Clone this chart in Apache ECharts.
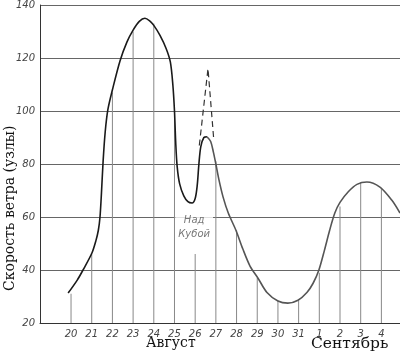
<!DOCTYPE html>
<html>
<head>
<meta charset="utf-8">
<script src="https://cdn.jsdelivr.net/npm/echarts@6/dist/echarts.min.js"></script>
<style>
  html, body { margin: 0; padding: 0; background: #fff; }
  #main { width: 400px; height: 353px; }
</style>
</head>
<body>
<div id="main"></div>
<script>
// day labels, index 0 = 20 August ... 15 = 4 September
var dayLabels = ['20','21','22','23','24','25','26','27','28','29','30','31','1','2','3','4'];
var yTicks = [20, 40, 60, 80, 100, 120, 140];

// vertical line height at every day (where it meets the curve)
var dayHeights = [31, 46, 107, 130, 133, 98, 46, 81, 55, 37, 28.5, 28.5, 39, 64, 73, 71];

// curve up to the bump over Cuba (dark part)
var curveA = [
  [-0.14,31.3],[0.3,36.2],[0.58,40],[1.01,46.4],[1.2,51],[1.32,55],[1.4,60],[1.47,69],
  [1.55,81],[1.65,92],[1.78,100.5],[2.0,108],[2.37,119],[2.7,126],[3.0,130.5],[3.3,133.8],
  [3.57,135],[3.8,134],[4.0,132.3],[4.3,128.5],[4.6,123.5],[4.8,118.5],[4.92,110],
  [5.0,100],[5.06,88],[5.13,79],[5.25,72.5],[5.45,68],[5.65,65.8],[5.85,65.3],[6.0,67],
  [6.1,72],[6.18,80],[6.27,86.5],[6.42,90],[6.57,90.3]
];
// rest of the curve (lighter)
var curveB = [
  [6.57,90.3],[6.75,88.5],[6.88,84.5],[7.0,80],[7.15,74],[7.35,67.5],[7.6,61.5],[7.97,55],
  [8.3,48],[8.65,41.5],[9.03,37],[9.47,31.5],[10.0,28.3],[10.48,27.5],[10.97,28.6],[11.4,31.5],
  [11.7,35],[11.98,40],[12.25,47.5],[12.5,55],[12.75,61.5],[13.0,65.5],[13.4,69.5],[13.82,72.3],
  [14.3,73.2],[14.93,71.3],[15.5,66.4],[15.9,61.5]
];
// dashed spike
var spike = [[6.2,87],[6.62,116],[6.9,89]];

var myChart = echarts.init(document.getElementById('main'));
myChart.setOption({
  animation: false,
  grid: { left: 40, right: 0, top: 5, bottom: 30 },
  xAxis: {
    type: 'value',
    min: -1.5,
    max: 15.9,
    axisLine: { onZero: false, lineStyle: { color: '#333', width: 1 } },
    axisTick: { show: false },
    splitLine: { show: false },
    axisLabel: {
      customValues: dayLabels.map(function (d, i) { return i; }),
      formatter: function (v) { return dayLabels[Math.round(v)]; },
      fontStyle: 'italic',
      fontFamily: 'DejaVu Sans',
      fontSize: 10,
      color: '#444',
      margin: 6
    }
  },
  yAxis: {
    type: 'value',
    min: 20,
    max: 140,
    interval: 20,
    axisLine: { show: true, onZero: false, lineStyle: { color: '#333', width: 1 } },
    axisTick: { show: false },
    splitLine: { show: true, lineStyle: { color: '#666', width: 1 } },
    axisLabel: {
      fontStyle: 'italic',
      fontFamily: 'DejaVu Sans',
      fontSize: 10,
      color: '#444',
      margin: 5
    }
  },
  graphic: [
    { type: 'text', x: 3, y: 291, rotation: Math.PI / 2,
      style: { text: 'Скорость ветра (узлы)', font: '14px "DejaVu Serif"', fill: '#111' } },
    { type: 'text', x: 146, y: 336,
      style: { text: 'Август', font: '14px "DejaVu Serif"', fill: '#111' } },
    { type: 'text', x: 311, y: 336,
      style: { text: 'Сентябрь', font: '15.5px "DejaVu Serif"', fill: '#111' } }
  ],
  series: [
    {
      type: 'bar',
      barWidth: 1,
      silent: true,
      itemStyle: { color: '#888' },
      data: dayHeights.map(function (h, i) { return [i, h]; }),
      z: 1
    },
    {
      type: 'line',
      smooth: 0.3,
      symbol: 'none',
      lineStyle: { color: '#1a1a1a', width: 1.6 },
      data: curveA,
      z: 3
    },
    {
      type: 'line',
      smooth: 0.3,
      symbol: 'none',
      lineStyle: { color: '#555', width: 1.6 },
      data: curveB,
      z: 3
    },
    {
      type: 'line',
      symbol: 'none',
      lineStyle: { color: '#333', width: 1.2, type: [6, 4] },
      data: spike,
      z: 3
    },
    {
      type: 'scatter',
      symbolSize: 0,
      silent: true,
      data: [[5.95, 56]],
      label: {
        show: true,
        formatter: 'Над\nКубой',
        fontStyle: 'italic',
        fontFamily: 'DejaVu Sans',
        fontSize: 10,
        lineHeight: 14,
        color: '#555',
        backgroundColor: '#fff',
        padding: [2, 3],
        align: 'center',
        verticalAlign: 'middle'
      },
      z: 4
    }
  ]
});
</script>
</body>
</html>
